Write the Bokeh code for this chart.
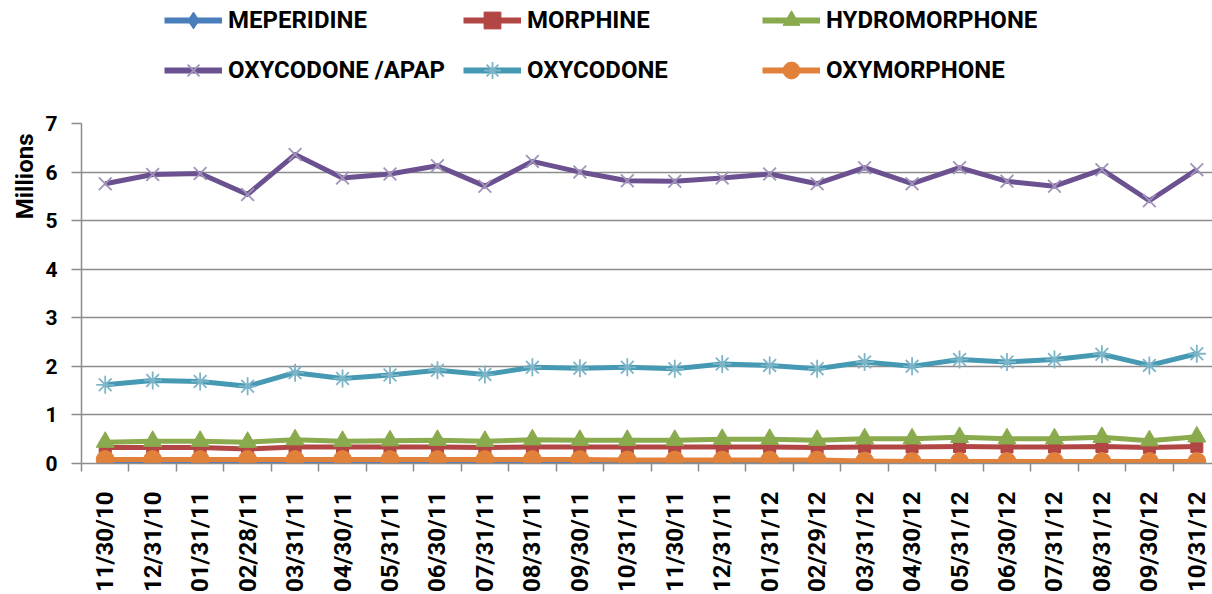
import math
from bokeh.plotting import figure
from bokeh.layouts import column
from bokeh.models import Range1d, FixedTicker, Legend, LegendItem, Title
from bokeh.embed import file_html
from bokeh.resources import INLINE

dates = ["11/30/10", "12/31/10", "01/31/11", "02/28/11", "03/31/11", "04/30/11",
         "05/31/11", "06/30/11", "07/31/11", "08/31/11", "09/30/11", "10/31/11",
         "11/30/11", "12/31/11", "01/31/12", "02/29/12", "03/31/12", "04/30/12",
         "05/31/12", "06/30/12", "07/31/12", "08/31/12", "09/30/12", "10/31/12"]

meperidine = [0.03, 0.03, 0.03, 0.03, 0.03, 0.03, 0.03, 0.03, 0.03, 0.03, 0.03, 0.03,
              0.03, 0.03, 0.03, 0.03, 0.03, 0.02, 0.02, 0.02, 0.02, 0.02, 0.02, 0.02]
morphine = [0.33, 0.33, 0.33, 0.30, 0.34, 0.34, 0.34, 0.34, 0.33, 0.34, 0.34, 0.34,
            0.34, 0.34, 0.34, 0.33, 0.34, 0.34, 0.35, 0.34, 0.34, 0.35, 0.33, 0.35]
hydromorphone = [0.44, 0.46, 0.46, 0.44, 0.49, 0.46, 0.47, 0.48, 0.46, 0.49, 0.48, 0.48,
                 0.48, 0.50, 0.50, 0.48, 0.51, 0.51, 0.54, 0.51, 0.51, 0.54, 0.47, 0.55]
oxycodone_apap = [5.76, 5.95, 5.97, 5.54, 6.36, 5.88, 5.96, 6.13, 5.71, 6.22, 6.00, 5.82,
                  5.81, 5.88, 5.96, 5.76, 6.09, 5.76, 6.09, 5.81, 5.71, 6.05, 5.41, 6.05]
oxycodone = [1.62, 1.71, 1.69, 1.59, 1.87, 1.75, 1.82, 1.92, 1.83, 1.98, 1.96, 1.98,
             1.95, 2.05, 2.02, 1.95, 2.09, 2.00, 2.14, 2.09, 2.14, 2.25, 2.02, 2.26]
oxymorphone = [0.08, 0.08, 0.08, 0.08, 0.08, 0.08, 0.08, 0.08, 0.08, 0.08, 0.08, 0.07,
               0.07, 0.07, 0.07, 0.07, 0.05, 0.04, 0.04, 0.04, 0.04, 0.04, 0.04, 0.04]

names = ["MEPERIDINE", "MORPHINE", "HYDROMORPHONE", "OXYCODONE /APAP", "OXYCODONE", "OXYMORPHONE"]
series = [meperidine, morphine, hydromorphone, oxycodone_apap, oxycodone, oxymorphone]
line_colors = ["#4A7EBB", "#B24644", "#8AAA4E", "#6C5190", "#4699B3", "#E2823A"]
marker_types = ["diamond", "square", "triangle", "x", "asterisk", "circle"]
marker_sizes = [14, 12, 18, 18, 18, 18]
marker_lines = ["#4A7EBB", "#B24644", "#8AAA4E", "#A194BA", "#7DB5C8", "#E2823A"]
line_widths = [3, 5, 5, 5, 5, 5]

FONT = "Roboto"
x = list(range(len(dates)))

# ---------------- main chart ----------------
p = figure(width=1212, height=494, output_backend="svg", toolbar_location=None,
           x_range=Range1d(-0.5, 23.33), y_range=Range1d(0, 7),
           min_border_left=81, min_border_right=0, min_border_top=23, min_border_bottom=131)
p.outline_line_color = None
p.background_fill_color = "white"
p.border_fill_color = "white"

for name, ys, lc, mt, ms, mlc, lw in zip(names, series, line_colors, marker_types,
                                         marker_sizes, marker_lines, line_widths):
    p.line(x, ys, line_color=lc, line_width=lw, line_join="round")
    if mt in ("x", "asterisk"):
        p.scatter(x, ys, marker=mt, size=ms, line_color=mlc, line_width=1.8)
    else:
        p.scatter(x, ys, marker=mt, size=ms, fill_color=lc, line_color=lc, line_width=1)

xa = p.xaxis[0]
xa.ticker = FixedTicker(ticks=x, minor_ticks=[i - 0.5 for i in range(len(dates) + 1)])
xa.major_label_overrides = {i: d for i, d in enumerate(dates)}
xa.major_label_orientation = math.pi / 2
xa.major_tick_out = 0
xa.major_tick_in = 0
xa.minor_tick_out = 8
xa.minor_tick_in = 0
xa.minor_tick_line_color = "#8C8C8C"
xa.minor_tick_line_width = 1.5
xa.axis_line_color = "#8C8C8C"
xa.axis_line_width = 1.5
xa.major_label_standoff = 20
xa.major_label_text_font = FONT
xa.major_label_text_font_style = "bold"
xa.major_label_text_font_size = "24px"
xa.major_label_text_color = "black"

ya = p.yaxis[0]
ya.ticker = FixedTicker(ticks=[0, 1, 2, 3, 4, 5, 6, 7])
ya.major_tick_out = 10
ya.major_tick_in = 0
ya.minor_tick_out = 0
ya.minor_tick_in = 0
ya.major_tick_line_color = "#8C8C8C"
ya.major_tick_line_width = 1.5
ya.axis_line_color = "#8C8C8C"
ya.axis_line_width = 1.5
ya.major_label_standoff = 14
ya.major_label_text_font = FONT
ya.major_label_text_font_style = "bold"
ya.major_label_text_font_size = "21px"
ya.major_label_text_color = "black"

p.xgrid.grid_line_color = None
p.ygrid.grid_line_color = "#8C8C8C"
p.ygrid.grid_line_width = 1.5

p.add_layout(Title(text="Millions", align="right", offset=10, standoff=8,
                   text_font=FONT, text_font_style="bold",
                   text_font_size="24px", text_color="black"), "left")

# ---------------- legend strip ----------------
lg = figure(width=1212, height=100, output_backend="svg", toolbar_location=None,
            x_range=Range1d(0, 1), y_range=Range1d(0, 1),
            min_border=0, x_axis_type=None, y_axis_type=None)
lg.outline_line_color = None
lg.xgrid.visible = False
lg.ygrid.visible = False

nan = float("nan")
items = []
for name, lc, mt, mlc in zip(names, line_colors, marker_types, marker_lines):
    r1 = lg.line([nan], [nan], line_color=lc, line_width=6)
    if mt in ("x", "asterisk"):
        r2 = lg.scatter([nan], [nan], marker=mt, line_color=mlc, line_width=1.8)
    else:
        r2 = lg.scatter([nan], [nan], marker=mt, fill_color=lc, line_color=lc, line_width=1)
    items.append(LegendItem(label=name, renderers=[r1, r2]))

legend = Legend(items=items, orientation="horizontal", ncols=3, location=(83, 9),
                glyph_width=58, glyph_height=42, label_height=42, label_width=227,
                spacing=8, label_standoff=6, padding=0, margin=0,
                border_line_color=None, background_fill_alpha=0,
                label_text_font=FONT, label_text_font_style="bold",
                label_text_font_size="24px", label_text_color="black")
lg.add_layout(legend, "center")

layout = column(lg, p, spacing=0)
open("out.html", "w").write(file_html(layout, INLINE))
